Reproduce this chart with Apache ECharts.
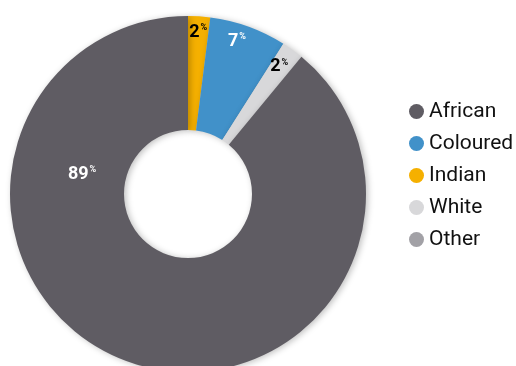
<!DOCTYPE html>
<html>
<head>
<meta charset="utf-8">
<script src="https://cdn.jsdelivr.net/npm/echarts@6/dist/echarts.min.js"></script>
<style>
html,body{margin:0;padding:0;background:#fff;}
#chart{width:516px;height:366px;}
</style>
</head>
<body>
<div id="chart"></div>
<script>
// Data (drawing order clockwise from 12 o'clock)
const sliceNames = ['Indian', 'Coloured', 'White', 'Other', 'African'];
const sliceValues = [2, 7, 2, 0, 89];
const legendOrder = ['African', 'Coloured', 'Indian', 'White', 'Other'];

const colorMap = {
  African: '#5f5c63',
  Coloured: '#4191c9',
  Indian: '#f5b000',
  White: '#d8d8da',
  Other: '#a2a1a6'
};
const labelColor = {
  African: '#ffffff',
  Coloured: '#ffffff',
  Indian: '#000000',
  White: '#000000',
  Other: '#000000'
};
// small label nudges (px)
const labelNudge = {
  African: [-51, -172],
  Coloured: [-6, 0],
  White: [-4, 4],
  Indian: [0, 0],
  Other: [0, 0]
};

const chart = echarts.init(document.getElementById('chart'), null, {renderer: 'canvas'});

const center = [188, 194];

const mainData = sliceNames.map((n, i) => ({
  name: n,
  value: sliceValues[i],
  itemStyle: {color: colorMap[n]}
}));

const labelData = sliceNames.map((n, i) => ({
  name: n,
  value: sliceValues[i],
  itemStyle: {color: 'rgba(0,0,0,0)'},
  label: {
    show: sliceValues[i] > 0,
    color: labelColor[n],
    rich: {
      v: {fontFamily: 'Roboto', fontWeight: 'bold', fontSize: 18, color: labelColor[n]},
      p: {fontFamily: 'Roboto', fontWeight: 'bold', fontSize: 9, color: labelColor[n], padding: [0, 0, 9, 1]}
    }
  }
}));

const option = {
  animation: false,
  backgroundColor: '#ffffff',
  legend: {
    orient: 'vertical',
    left: 404,
    top: 96,
    icon: 'circle',
    itemWidth: 15,
    itemHeight: 15,
    itemGap: 11,
    data: legendOrder,
    textStyle: {fontFamily: 'Roboto', fontSize: 21, color: '#111111'}
  },
  series: [
    {
      type: 'pie',
      center: center,
      radius: [64, 178],
      startAngle: 90,
      clockwise: true,
      silent: true,
      label: {show: false},
      labelLine: {show: false},
      itemStyle: {
        shadowBlur: 6,
        shadowColor: 'rgba(0,0,0,0.25)',
        shadowOffsetX: 2,
        shadowOffsetY: 1
      },
      data: mainData
    },
    {
      type: 'pie',
      center: center,
      radius: [140, 178],
      startAngle: 90,
      clockwise: true,
      silent: true,
      label: {
        show: true,
        position: 'inside',
        formatter: '{v|{c}}{p|%}'
      },
      labelLine: {show: false},
      labelLayout: function (params) {
        const nd = labelNudge[sliceNames[params.dataIndex]];
        return {dx: nd[0], dy: nd[1]};
      },
      data: labelData
    }
  ]
};

chart.setOption(option);
</script>
</body>
</html>
